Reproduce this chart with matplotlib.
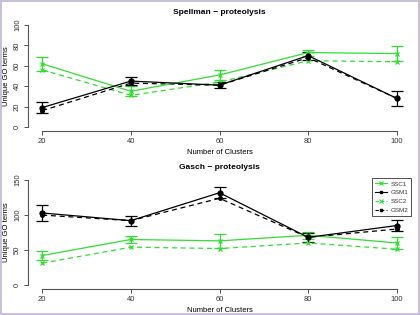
import matplotlib
matplotlib.use('Agg')
import matplotlib.pyplot as plt
from matplotlib.lines import Line2D

plt.rcParams['font.family'] = ['Liberation Sans', 'DejaVu Sans']

# ── 数据 ──────────────────────────────────────────────
clusters = [20, 40, 60, 80, 100]

# Spellman - proteolysis
sp_ssc1 = [62, 35, 51, 73, 72]
sp_ssc1_err = [7, 5, 5, 3, 7]
sp_gsm1 = [19, 45, 41, 70, 28]
sp_gsm1_err = [5, 4, 3, 4, 7]
sp_ssc2 = [56, 31, 44, 65, 64]
sp_gsm2 = [16, 43, 41, 68, 28]

# Gasch - proteolysis
ga_ssc1 = [42, 65, 63, 71, 60]
ga_ssc1_err = [7, 5, 10, 5, 8]
ga_gsm1 = [103, 92, 132, 68, 85]
ga_gsm1_err = [11, 7, 8, 6, 8]
ga_ssc2 = [31, 54, 52, 60, 51]
ga_gsm2 = [100, 92, 124, 68, 80]

legend_labels = ['SSC1', 'GSM1', 'SSC2', 'GSM2']

panels = [
    ('Spellman \u2212 proteolysis', sp_ssc1, sp_ssc1_err, sp_gsm1, sp_gsm1_err,
     sp_ssc2, sp_gsm2, [0, 20, 40, 60, 80, 100]),
    ('Gasch \u2212 proteolysis', ga_ssc1, ga_ssc1_err, ga_gsm1, ga_gsm1_err,
     ga_ssc2, ga_gsm2, [0, 50, 100, 150]),
]

GREEN = '#33dd33'
DASH = (0, (4, 3))
fig = plt.figure(figsize=(4.2, 3.15), dpi=100)
fig.patch.set_edgecolor('#c8c0dc')
fig.patch.set_linewidth(1.5)

rects = [[28/420, 1 - 131/315, 383/420, 110/315],
         [28/420, 1 - 289/315, 383/420, 113/315]]

for rect, (title, ssc1, ssc1_err, gsm1, gsm1_err, ssc2, gsm2, yt) in zip(rects, panels):
    ax = fig.add_axes(rect)
    ax.errorbar(clusters, ssc1, yerr=ssc1_err, color=GREEN, lw=0.9, marker='x',
                ms=3, mew=0.9, capsize=4, elinewidth=0.9, capthick=0.9)
    ax.errorbar(clusters, gsm1, yerr=gsm1_err, color='black', lw=0.9, marker='o',
                ms=3.5, capsize=4, elinewidth=0.9, capthick=0.9)
    ax.plot(clusters, ssc2, color=GREEN, lw=0.9, ls=DASH, marker='x', ms=3, mew=0.9)
    ax.plot(clusters, gsm2, color='black', lw=0.9, ls=DASH, marker='o', ms=2.5)

    span = yt[-1] - yt[0]
    ax.set_xlim(16.8, 103.2)
    ax.set_ylim(yt[0] - 0.04 * span, yt[-1] + 0.04 * span)
    ax.set_xticks(clusters)
    ax.set_yticks(yt)
    ax.set_yticklabels([str(v) for v in yt], rotation=90, va='center')
    for s in ['top', 'right']:
        ax.spines[s].set_visible(False)
    ax.spines['left'].set_bounds(yt[0], yt[-1])
    ax.spines['bottom'].set_bounds(20, 100)
    for s in ['left', 'bottom']:
        ax.spines[s].set_color('#555555')
        ax.spines[s].set_linewidth(0.8)
    ax.tick_params(labelsize=5.5, length=3, width=0.6, colors='#333333', pad=2)
    ax.set_xlabel('Number of Clusters', fontsize=5.5, labelpad=3)
    ax.set_ylabel('Unique GO terms', fontsize=5.5, labelpad=3)
    ax.set_title(title, fontsize=6, fontweight='bold', pad=5)

    if title.startswith('Gasch'):
        handles = [
            Line2D([], [], color=GREEN, lw=0.8, marker='x', ms=2.5, mew=0.8),
            Line2D([], [], color='black', lw=0.8, marker='s', ms=1.8),
            Line2D([], [], color=GREEN, lw=0.8, ls=(0, (3, 2)), marker='x', ms=2.5, mew=0.8),
            Line2D([], [], color='black', lw=0.8, ls=(0, (3, 2)), marker='s', ms=1.8),
        ]
        leg = ax.legend(handles, legend_labels, loc='upper right',
                        bbox_to_anchor=(1.003, 0.99), fontsize=4.5, frameon=True,
                        fancybox=False, edgecolor='black', handlelength=2.0,
                        handletextpad=0.5, borderpad=0.45, labelspacing=0.55,
                        borderaxespad=0.2)
        leg.get_frame().set_linewidth(0.6)
        for t in leg.get_texts():
            t.set_color('#333333')

fig.savefig('out.png', dpi=100)
